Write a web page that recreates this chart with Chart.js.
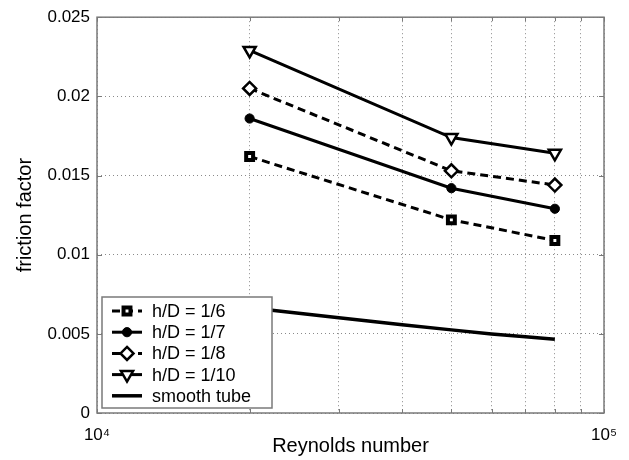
<!DOCTYPE html>
<html>
<head>
<meta charset="utf-8">
<script src="https://cdn.jsdelivr.net/npm/chart.js@4"></script>
<style>
  html, body { margin: 0; padding: 0; background: #fff; }
  #wrap { width: 629px; height: 460px; }
</style>
</head>
<body>
<div id="wrap"><canvas id="frictionChart" width="629" height="460"></canvas></div>
<script>
const reynolds = [20000, 50000, 80000];
const fHD6 = [0.0162, 0.0122, 0.0109];
const fHD7 = [0.0186, 0.0142, 0.0129];
const fHD8 = [0.0205, 0.0153, 0.0144];
const fHD10 = [0.0229, 0.0174, 0.0164];
const smoothRe = [20000, 30000, 40000, 50000, 60000, 70000, 80000];
const smoothF = [0.00665, 0.00601, 0.00557, 0.00525, 0.00499, 0.00481, 0.00466];
const seriesLabels = ["h/D = 1/6", "h/D = 1/7", "h/D = 1/8", "h/D = 1/10", "smooth tube"];
const yTicks = [0, 0.005, 0.01, 0.015, 0.02, 0.025];
const yTickLabels = ["0", "0.005", "0.01", "0.015", "0.02", "0.025"];
const xTicks = [10000, 20000, 30000, 40000, 50000, 60000, 70000, 80000, 90000, 100000];
const xTickLabels = ["10\u2074", "", "", "", "", "", "", "", "", "10\u2075"];

const FONT = "'Liberation Sans', Arial, Helvetica, sans-serif";
const GRAY = "#7a7a7a";

function toPoints(xs, ys) {
    return xs.map((x, i) => ({ x: x, y: ys[i] }));
}

// marker drawing for the legend samples
function drawMarker(ctx, ds, x, y) {
    const r = ds.pointRadius;
    ctx.save();
    ctx.setLineDash([]);
    ctx.lineWidth = ds.pointBorderWidth;
    ctx.strokeStyle = ds.pointBorderColor;
    ctx.fillStyle = ds.pointBackgroundColor;
    ctx.beginPath();
    if (ds.pointStyle === "rect") {
        const s = r * Math.SQRT1_2;
        ctx.rect(x - s, y - s, 2 * s, 2 * s);
    } else if (ds.pointStyle === "circle") {
        ctx.arc(x, y, r, 0, Math.PI * 2);
    } else if (ds.pointStyle === "rectRot") {
        ctx.moveTo(x, y - r);
        ctx.lineTo(x + r, y);
        ctx.lineTo(x, y + r);
        ctx.lineTo(x - r, y);
        ctx.closePath();
    } else if (ds.pointStyle === "triangle") {
        ctx.moveTo(x, y + r);
        ctx.lineTo(x + r * Math.sin(Math.PI / 3), y - r / 2);
        ctx.lineTo(x - r * Math.sin(Math.PI / 3), y - r / 2);
        ctx.closePath();
    }
    ctx.fill();
    ctx.stroke();
    ctx.restore();
}

const framePlugin = {
    id: "frame",
    beforeDatasetsDraw(chart) {
        const { ctx, chartArea: ca } = chart;
        const xs = chart.scales.x;
        const ys = chart.scales.y;
        ctx.save();
        ctx.strokeStyle = GRAY;
        ctx.lineWidth = 1;
        // inward tick marks
        ctx.beginPath();
        xs.ticks.forEach(t => {
            const px = Math.round(xs.getPixelForValue(t.value)) + 0.5;
            ctx.moveTo(px, ca.bottom);
            ctx.lineTo(px, ca.bottom - 4);
            ctx.moveTo(px, ca.top);
            ctx.lineTo(px, ca.top + 4);
        });
        ys.ticks.forEach(t => {
            const py = Math.round(ys.getPixelForValue(t.value)) + 0.5;
            ctx.moveTo(ca.left, py);
            ctx.lineTo(ca.left + 5, py);
            ctx.moveTo(ca.right, py);
            ctx.lineTo(ca.right - 5, py);
        });
        ctx.stroke();
        ctx.lineWidth = 1.5;
        ctx.strokeRect(ca.left, ca.top, ca.right - ca.left, ca.bottom - ca.top);
        ctx.restore();
    }
};

const legendPlugin = {
    id: "boxLegend",
    afterDraw(chart) {
        const { ctx, chartArea: ca } = chart;
        const boxW = 170, boxH = 111;
        const bx = ca.left + 5;
        const by = ca.bottom - 5 - boxH;
        ctx.save();
        ctx.fillStyle = "#fff";
        ctx.fillRect(bx, by, boxW, boxH);
        ctx.strokeStyle = GRAY;
        ctx.lineWidth = 1.5;
        ctx.strokeRect(bx, by, boxW, boxH);
        ctx.font = "18px " + FONT;
        ctx.textBaseline = "middle";
        ctx.textAlign = "left";
        chart.data.datasets.forEach((ds, i) => {
            const y = by + 14 + i * 21.2;
            ctx.save();
            ctx.strokeStyle = ds.borderColor;
            ctx.lineWidth = ds.borderWidth;
            ctx.setLineDash(ds.borderDash || []);
            ctx.beginPath();
            ctx.moveTo(bx + 10, y);
            ctx.lineTo(bx + 40, y);
            ctx.stroke();
            ctx.restore();
            if (ds.pointRadius > 0) {
                drawMarker(ctx, ds, bx + 25, y);
            }
            ctx.fillStyle = "#000";
            ctx.fillText(ds.label, bx + 50, y + 1);
        });
        ctx.restore();
    }
};

const ctx = document.getElementById("frictionChart");

new Chart(ctx, {
    type: "line",
    data: {
        datasets: [
            {
                label: seriesLabels[0],
                data: toPoints(reynolds, fHD6),
                borderColor: "#000",
                borderWidth: 3,
                borderDash: [8, 5],
                pointStyle: "rect",
                pointRadius: 4.9,
                pointBorderWidth: 4,
                pointBorderColor: "#000",
                pointBackgroundColor: "#fff"
            },
            {
                label: seriesLabels[1],
                data: toPoints(reynolds, fHD7),
                borderColor: "#000",
                borderWidth: 3,
                pointStyle: "circle",
                pointRadius: 4.6,
                pointBorderWidth: 1,
                pointBorderColor: "#000",
                pointBackgroundColor: "#000"
            },
            {
                label: seriesLabels[2],
                data: toPoints(reynolds, fHD8),
                borderColor: "#000",
                borderWidth: 3,
                borderDash: [8, 5],
                pointStyle: "rectRot",
                pointRadius: 6.5,
                pointBorderWidth: 2.5,
                pointBorderColor: "#000",
                pointBackgroundColor: "#fff"
            },
            {
                label: seriesLabels[3],
                data: toPoints(reynolds, fHD10),
                borderColor: "#000",
                borderWidth: 3,
                pointStyle: "triangle",
                pointRotation: 180,
                pointRadius: 7,
                pointBorderWidth: 2.5,
                pointBorderColor: "#000",
                pointBackgroundColor: "#fff"
            },
            {
                label: seriesLabels[4],
                data: toPoints(smoothRe, smoothF),
                borderColor: "#000",
                borderWidth: 3.5,
                pointRadius: 0,
                pointBorderWidth: 0,
                pointBorderColor: "#000",
                pointBackgroundColor: "#000"
            }
        ]
    },
    options: {
        responsive: false,
        animation: false,
        events: [],
        layout: {
            padding: { top: 15, right: 25, left: 0, bottom: 0 }
        },
        plugins: {
            legend: { display: false },
            tooltip: { enabled: false }
        },
        scales: {
            x: {
                type: "logarithmic",
                min: 10000,
                max: 100000,
                afterFit: s => { s.height = 47; },
                afterBuildTicks: s => { s.ticks = xTicks.map(v => ({ value: v })); },
                grid: {
                    color: "#8a8a8a",
                    lineWidth: 1,
                    drawTicks: false
                },
                border: { display: false, dash: [1, 3] },
                ticks: {
                    autoSkip: false,
                    maxRotation: 0,
                    padding: 12,
                    color: "#000",
                    font: { family: FONT, size: 17 },
                    callback: (v, i) => xTickLabels[i]
                },
                title: {
                    display: true,
                    text: "Reynolds number",
                    color: "#000",
                    font: { family: FONT, size: 20 },
                    padding: { top: 0, bottom: 2 }
                }
            },
            y: {
                min: 0,
                max: 0.025,
                afterFit: s => { s.width = 97; },
                afterBuildTicks: s => { s.ticks = yTicks.map(v => ({ value: v })); },
                grid: {
                    color: "#8a8a8a",
                    lineWidth: 1,
                    drawTicks: false
                },
                border: { display: false, dash: [1, 3] },
                ticks: {
                    padding: 7,
                    color: "#000",
                    font: { family: FONT, size: 17 },
                    callback: (v, i) => yTickLabels[i]
                },
                title: {
                    display: true,
                    text: "friction factor",
                    color: "#000",
                    font: { family: FONT, size: 20 },
                    padding: { top: 13, bottom: 0 }
                }
            }
        }
    },
    plugins: [framePlugin, legendPlugin]
});
</script>
</body>
</html>
